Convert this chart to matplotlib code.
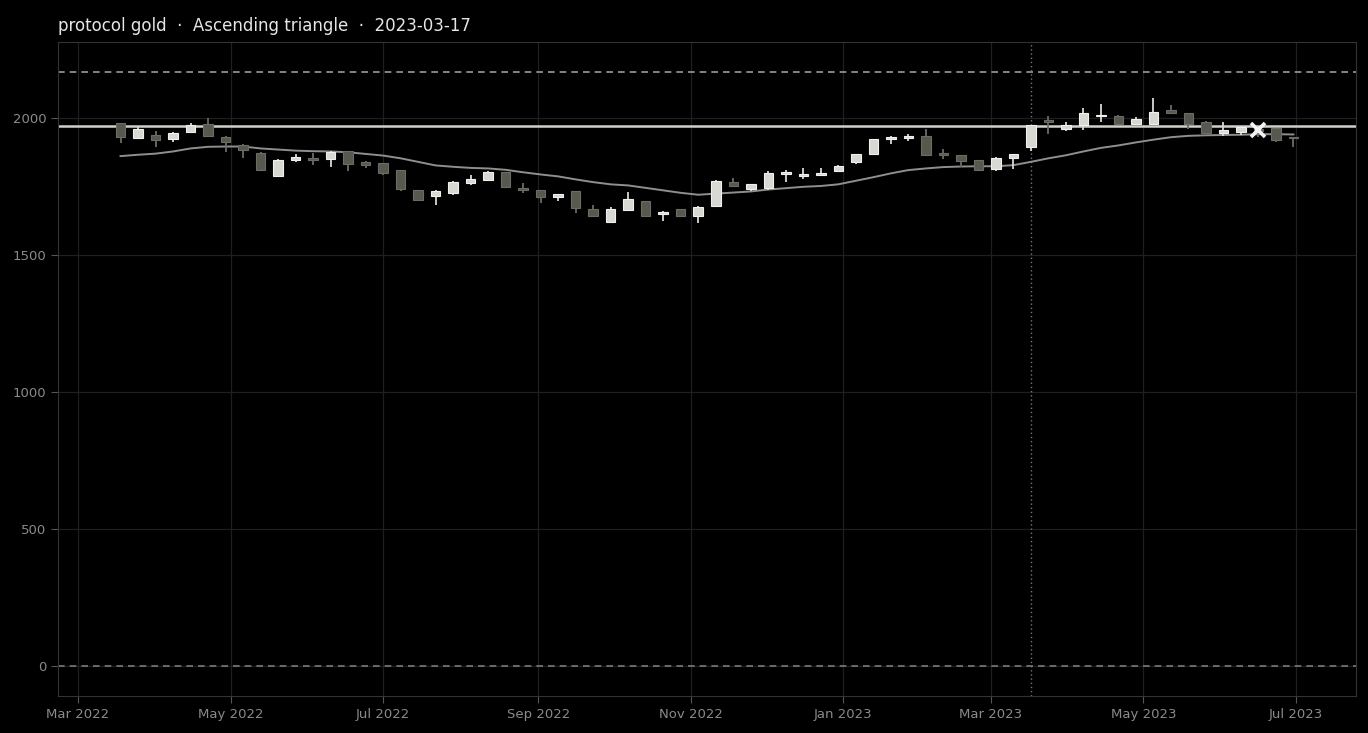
import numpy as np
import pandas as pd
import matplotlib
matplotlib.use("Agg")
import matplotlib.pyplot as plt
import matplotlib.dates as mdates

# weekly candles (Fridays)
dates = pd.date_range("2022-03-18", periods=68, freq="7D")

opens = [1982, 1928, 1939, 1924, 1950, 1979, 1931, 1902, 1873, 1791,
         1846, 1856, 1851, 1880, 1840, 1836, 1811, 1738, 1716, 1729,
         1765, 1774, 1803, 1745, 1738, 1711, 1734, 1669, 1623, 1667,
         1698, 1651, 1668, 1643, 1681, 1767, 1741, 1744, 1797, 1789,
         1793, 1807, 1840, 1869, 1924, 1928, 1935, 1873, 1866, 1847,
         1814, 1855, 1895, 1994, 1961, 1974, 2007, 2007, 1981, 1981,
         2030, 2019, 1988, 1945, 1950, 1962, 1963, 1930]
highs = [1984, 1968, 1953, 1950, 1983, 2001, 1935, 1907, 1876, 1850,
         1869, 1873, 1880, 1881, 1845, 1837, 1812, 1739, 1739, 1770,
         1792, 1808, 1805, 1763, 1739, 1725, 1735, 1683, 1677, 1730,
         1699, 1660, 1669, 1680, 1773, 1781, 1762, 1806, 1812, 1820,
         1820, 1830, 1870, 1925, 1935, 1942, 1961, 1888, 1867, 1849,
         1860, 1870, 1977, 2007, 1988, 2036, 2052, 2011, 2003, 2074,
         2048, 2020, 1989, 1986, 1971, 1965, 1964, 1931]
lows = [1909, 1923, 1895, 1915, 1945, 1930, 1877, 1855, 1808, 1787,
        1842, 1829, 1824, 1806, 1818, 1794, 1733, 1700, 1683, 1719,
        1756, 1772, 1747, 1727, 1692, 1698, 1654, 1644, 1619, 1664,
        1642, 1626, 1640, 1618, 1676, 1749, 1736, 1739, 1767, 1778,
        1789, 1805, 1835, 1868, 1906, 1918, 1865, 1853, 1824, 1810,
        1809, 1816, 1879, 1943, 1953, 1956, 1986, 1976, 1977, 1977,
        2016, 1962, 1945, 1935, 1939, 1930, 1913, 1897]
closes = [1931, 1962, 1920, 1945, 1977, 1934, 1913, 1883, 1811, 1847,
          1859, 1847, 1877, 1835, 1828, 1800, 1741, 1703, 1734, 1767,
          1778, 1803, 1748, 1739, 1712, 1723, 1672, 1645, 1669, 1705,
          1643, 1658, 1643, 1678, 1772, 1753, 1760, 1800, 1805, 1797,
          1801, 1825, 1868, 1924, 1931, 1936, 1866, 1866, 1844, 1811,
          1855, 1869, 1974, 1986, 1974, 2018, 2012, 1981, 1997, 2023,
          2019, 1981, 1946, 1958, 1969, 1955, 1921, 1927]
ma = [1862, 1867, 1871, 1879, 1890, 1896, 1897, 1897, 1890, 1886,
      1882, 1880, 1879, 1876, 1870, 1864, 1854, 1841, 1828, 1823,
      1819, 1817, 1812, 1803, 1795, 1788, 1777, 1767, 1759, 1755,
      1746, 1737, 1728, 1721, 1725, 1729, 1733, 1740, 1745, 1750,
      1753, 1759, 1772, 1785, 1799, 1811, 1817, 1822, 1824, 1825,
      1825, 1829, 1841, 1854, 1865, 1879, 1892, 1901, 1912, 1922,
      1931, 1936, 1938, 1939, 1940, 1942, 1942, 1941]

resistance = 1973
target = 2170
floor_level = 0
signal_date = pd.Timestamp("2023-03-17")
mark_date = pd.Timestamp("2023-06-16")
mark_price = 1959
title = "protocol gold  \u00b7  Ascending triangle  \u00b7  2023-03-17"

UP_FILL = "#d8d8d3"
UP_EDGE = "#f0f0ee"
DN_FILL = "#58584f"
DN_EDGE = "#6c6c66"


def draw_candles(ax):
    o = np.array(opens, dtype=float)
    c = np.array(closes, dtype=float)
    up = c >= o
    x = mdates.date2num(dates)
    wick_col = np.where(up, UP_FILL, DN_EDGE)
    ax.vlines(x, lows, highs, colors=wick_col, linewidth=1.3, zorder=2)
    body_lo = np.minimum(o, c)
    body_h = np.maximum(np.abs(c - o), 3)
    ax.bar(x[up], body_h[up], bottom=body_lo[up], width=3.8,
           color=UP_FILL, edgecolor=UP_EDGE, linewidth=0.8, zorder=3)
    ax.bar(x[~up], body_h[~up], bottom=body_lo[~up], width=3.8,
           color=DN_FILL, edgecolor=DN_EDGE, linewidth=0.8, zorder=3)


fig = plt.figure(figsize=(13.68, 7.33), dpi=100, facecolor="black")
ax = fig.add_axes([58 / 1368, 1 - 696 / 733, (1356 - 58) / 1368, (696 - 42) / 733])
ax.set_facecolor("black")

ax.grid(True, color="#1f1f1f", linewidth=0.9, zorder=0)
ax.set_axisbelow(True)

ax.axhline(target, color="#9a9a9a", linestyle=(0, (4, 3)), linewidth=1.2, zorder=1)
ax.axhline(floor_level, color="#7a7a7a", linestyle=(0, (4, 3)), linewidth=1.2, zorder=1)
ax.axhline(resistance, color="#d0d0cc", linewidth=1.8, zorder=1)
ax.axvline(signal_date, color="#777777", linestyle=(0, (1, 2)), linewidth=1.0, zorder=1)

ax.plot(dates, ma, color="#8f8f8f", linewidth=1.4, zorder=2)
draw_candles(ax)
ax.plot([mark_date], [mark_price], marker="x", markersize=10, mew=2.6,
        color="#f2f2f2", linestyle="none", zorder=5)

ax.set_xlim(pd.Timestamp("2022-02-21"), pd.Timestamp("2023-07-25"))
ax.set_ylim(-108.5, 2278.5)
ax.set_yticks([0, 500, 1000, 1500, 2000])
ax.xaxis.set_major_locator(mdates.MonthLocator(bymonth=[1, 3, 5, 7, 9, 11]))
ax.xaxis.set_major_formatter(mdates.DateFormatter("%b %Y"))

for sp in ax.spines.values():
    sp.set_color("#333333")
ax.tick_params(colors="#8a8a8a", labelsize=9.5, length=5)
ax.tick_params(axis="both", color="#555555")

ax.set_title(title, loc="left", color="#e6e6e6", fontsize=12, pad=8)

fig.savefig("out.png", dpi=100, facecolor="black")
